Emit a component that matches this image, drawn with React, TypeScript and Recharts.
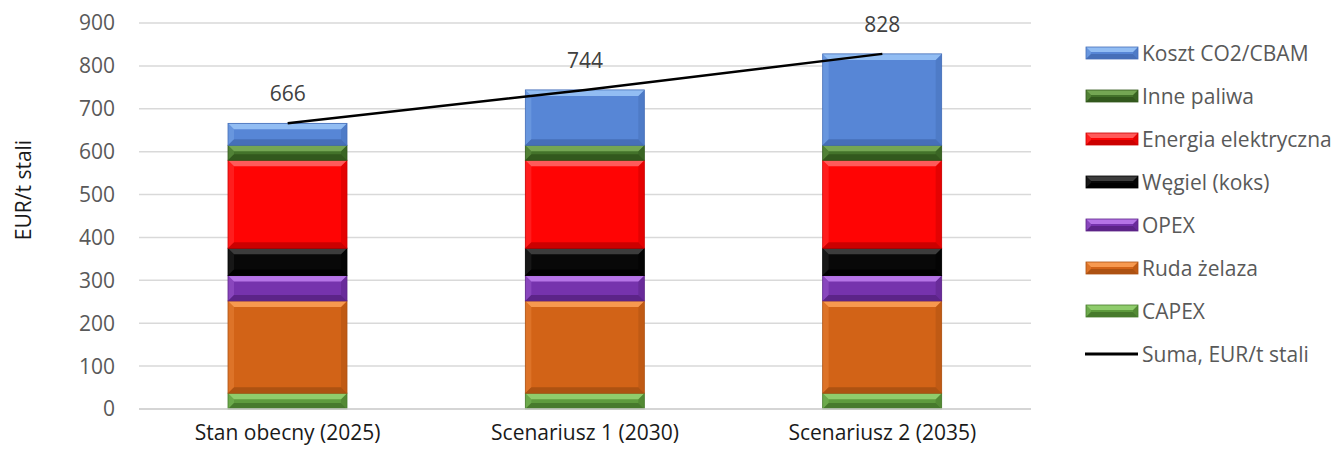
import { ComposedChart, Bar, Line, XAxis, YAxis, CartesianGrid, Legend, LabelList } from "recharts";

const categories = ["Stan obecny (2025)", "Scenariusz 1 (2030)", "Scenariusz 2 (2035)"];
const capex = [37, 37, 37];
const rudaZelaza = [215, 215, 215];
const opex = [59, 59, 59];
const wegiel = [64, 64, 64];
const energia = [205, 205, 205];
const innePaliwa = [35, 35, 35];
const kosztCO2 = [51, 129, 213];
const suma = [666, 744, 828];
const yTicks = [0, 100, 200, 300, 400, 500, 600, 700, 800, 900];

// stacked from bottom to top
const series = [
  { key: "capex", name: "CAPEX", values: capex, base: "#5e9b3d", light: "#8fcc6c", dark: "#477a2c" },
  { key: "ruda", name: "Ruda żelaza", values: rudaZelaza, base: "#d26317", light: "#f7994f", dark: "#ad5212" },
  { key: "opex", name: "OPEX", values: opex, base: "#7633ad", light: "#b574e6", dark: "#5c2488" },
  { key: "wegiel", name: "Węgiel (koks)", values: wegiel, base: "#080808", light: "#3c3c3c", dark: "#000000" },
  { key: "energia", name: "Energia elektryczna", values: energia, base: "#ff0404", light: "#ff5a5a", dark: "#cc0000" },
  { key: "inne", name: "Inne paliwa", values: innePaliwa, base: "#43722a", light: "#74a653", dark: "#32581d" },
  { key: "co2", name: "Koszt CO2/CBAM", values: kosztCO2, base: "#5786d6", light: "#92bdf3", dark: "#466fb8" },
];

const rows = categories.map((c, i) => {
  const r: Record<string, string | number> = { category: c, suma: suma[i] };
  series.forEach((s) => (r[s.key] = s.values[i]));
  return r;
});

type S = (typeof series)[number];

const makeBevel = (s: S) => (p: any) => {
  const { x, y, width: w, height: h } = p;
  if (!h || h <= 0) return <g />;
  const b = Math.min(6, h / 2.4);
  return (
    <g>
      <rect x={x} y={y} width={w} height={h} fill={s.base} />
      <polygon points={`${x},${y} ${x + b},${y + b} ${x + b},${y + h - b} ${x},${y + h}`} fill={s.light} opacity={0.3} />
      <polygon points={`${x + w},${y} ${x + w - b},${y + b} ${x + w - b},${y + h - b} ${x + w},${y + h}`} fill={s.dark} opacity={0.5} />
      <polygon points={`${x},${y} ${x + w},${y} ${x + w - b},${y + b} ${x + b},${y + b}`} fill={s.light} />
      <polygon points={`${x},${y + h} ${x + w},${y + h} ${x + w - b},${y + h - b} ${x + b},${y + h - b}`} fill={s.dark} />
      <rect x={x} y={y} width={w} height={h} fill="none" stroke={s.dark} strokeWidth={0.8} />
    </g>
  );
};

function LegendBox() {
  const items = [...series].reverse();
  return (
    <div style={{ fontSize: 21, color: "#595959" }}>
      {items.map((s) => (
        <div key={s.key} style={{ display: "flex", alignItems: "center", height: 43 }}>
          <svg width={56} height={14} style={{ marginRight: 2 }}>
            {makeBevel(s)({ x: 2, y: 1, width: 52, height: 12 })}
          </svg>
          <span style={{ whiteSpace: "nowrap" }}>{s.name}</span>
        </div>
      ))}
      <div style={{ display: "flex", alignItems: "center", height: 43 }}>
        <svg width={56} height={14} style={{ marginRight: 2 }}>
          <line x1={1} y1={7} x2={54} y2={7} stroke="#000" strokeWidth={3} />
        </svg>
        <span style={{ whiteSpace: "nowrap" }}>Suma, EUR/t stali</span>
      </div>
    </div>
  );
}

export default function App() {
  return (
    <div style={{ position: "absolute", left: 0, top: 0, fontFamily: "'Open Sans', sans-serif", background: "#fff" }}>
      <ComposedChart width={1334} height={450} data={rows} margin={{ top: 23, right: 303, left: 0, bottom: 0 }}>
        <CartesianGrid vertical={false} stroke="#d9d9d9" strokeWidth={1.5} />
        <XAxis
          dataKey="category"
          height={41}
          tickLine={false}
          tickSize={0}
          tickMargin={16}
          axisLine={{ stroke: "#d0d0d0", strokeWidth: 1.5 }}
          tick={{ fontSize: 21, fill: "#1a1a1a" }}
          interval={0}
        />
        <YAxis
          width={139}
          domain={[0, 900]}
          ticks={yTicks}
          tickLine={false}
          axisLine={false}
          tickSize={0}
          tickMargin={24}
          tick={{ fontSize: 21, fill: "#595959" }}
          label={{
            content: () => (
              <text x={31} y={190} transform="rotate(-90 31 190)" textAnchor="middle" fontSize={21} fill="#1a1a1a">
                EUR/t stali
              </text>
            ),
          }}
        />
        <Legend
          layout="vertical"
          align="center"
          verticalAlign="middle"
          wrapperStyle={{ left: 1084, top: 31, width: 250 }}
          content={() => <LegendBox />}
        />
        {series.map((s) => (
          <Bar key={s.key} dataKey={s.key} name={s.name} stackId="a" fill={s.base} barSize={119} shape={makeBevel(s)} isAnimationActive={false} />
        ))}
        <Line dataKey="suma" name="Suma, EUR/t stali" stroke="#000" strokeWidth={2.5} dot={false} isAnimationActive={false}>
          <LabelList dataKey="suma" position="top" offset={22} fill="#404040" fontSize={21} />
        </Line>
      </ComposedChart>
    </div>
  );
}
